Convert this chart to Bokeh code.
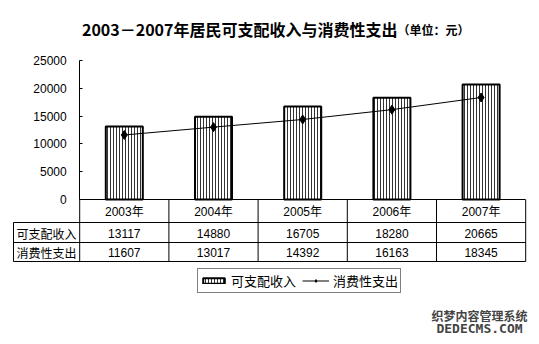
from bokeh.plotting import figure
from bokeh.models import Range1d, LinearAxis, FixedTicker, Legend, LegendItem
from bokeh.core.properties import value
from bokeh.embed import file_html
from bokeh.resources import INLINE

# ---- data ----
years = ["2003年", "2004年", "2005年", "2006年", "2007年"]
income = [13117, 14880, 16705, 18280, 20665]          # 可支配收入
consumption = [11607, 13017, 14392, 16163, 18345]     # 消费性支出
row_labels = ["可支配收入", "消费性支出"]
y_ticks = [0, 5000, 10000, 15000, 20000, 25000]
title_main = "2003－2007年居民可支配收入与消费性支出"
title_unit = "（单位：元）"
wm_cn = "织梦内容管理系统"
wm_en = "DEDECMS.COM"

# ---- layout constants (pixels) ----
W, H = 539, 344
AX = 79.2        # x of value axis
CW = 89.2        # category cell width
Y0 = 199         # pixel y of value 0
YTOP = 60        # pixel y of top tick
YMAX = 25000
PPU = (Y0 - YTOP) / YMAX
LEFT = (13 - AX) / CW
ROWS = [199, 222, 242, 261]

CJK = value("Noto Sans CJK SC")
MIX = value("Liberation Sans, Noto Sans CJK SC")

p = figure(width=W, height=H,
           x_range=Range1d(-AX / CW, (W - AX) / CW),
           y_range=Range1d(-(H - Y0) / PPU, YMAX + YTOP / PPU),
           x_axis_type=None, y_axis_type=None,
           toolbar_location=None, output_backend="svg", min_border=0)
p.extra_x_ranges = {"px": Range1d(0, W)}
p.extra_y_ranges = {"py": Range1d(H, 0)}
p.outline_line_color = None
p.background_fill_color = "white"
p.border_fill_color = "white"

xs = [i + 0.5 for i in range(len(years))]

# bars
bars = p.vbar(x=xs, top=income, bottom=0, width=0.415,
              fill_color="white", line_color="black", line_width=2,
              hatch_pattern="vertical_line", hatch_color="#333333",
              hatch_scale=3, hatch_weight=1)
# line
ln = p.line(xs, consumption, line_color="black", line_width=1)
sc = p.scatter(xs, consumption, marker="diamond", size=9,
               fill_color="black", line_color="black")

# axes
ya = LinearAxis(fixed_location=0, bounds=(0, YMAX),
                ticker=FixedTicker(ticks=y_ticks),
                major_tick_in=3, major_tick_out=0,
                minor_tick_in=0, minor_tick_out=0,
                major_label_standoff=13,
                major_label_text_font="Liberation Sans",
                major_label_text_font_size="12px",
                major_label_text_color="black",
                axis_line_color="black", major_tick_line_color="black")
p.add_layout(ya, "left")
xa = LinearAxis(fixed_location=0, bounds=(0, len(years)),
                ticker=FixedTicker(ticks=[]),
                major_tick_in=0, major_tick_out=0,
                minor_tick_in=0, minor_tick_out=0,
                major_label_text_font_size="0px",
                axis_line_color="black")
p.add_layout(xa, "below")

# data table
n = len(years)
p.segment(x0=[LEFT] * 3, y0=ROWS[1:], x1=[n] * 3, y1=ROWS[1:],
          y_range_name="py", line_color="black", line_width=1)
p.segment(x0=list(range(n + 1)), y0=[ROWS[0]] * (n + 1),
          x1=list(range(n + 1)), y1=[ROWS[3]] * (n + 1),
          y_range_name="py", line_color="black", line_width=1)
p.segment(x0=[LEFT], y0=[ROWS[1]], x1=[LEFT], y1=[ROWS[3]],
          y_range_name="py", line_color="black", line_width=1)

def row_c(i):
    return (ROWS[i] + ROWS[i + 1]) / 2 + 0.5

p.text(x=xs, y=[row_c(0)] * n, text=years, y_range_name="py",
       text_align="center", text_baseline="middle",
       text_font=MIX, text_font_size="12px", text_color="black")
p.text(x=xs, y=[row_c(1)] * n, text=[str(v) for v in income], y_range_name="py",
       text_align="center", text_baseline="middle",
       text_font=value("Liberation Sans"), text_font_size="12px", text_color="black")
p.text(x=xs, y=[row_c(2)] * n, text=[str(v) for v in consumption], y_range_name="py",
       text_align="center", text_baseline="middle",
       text_font=value("Liberation Sans"), text_font_size="12px", text_color="black")
p.text(x=[LEFT / 2] * 2, y=[row_c(1), row_c(2)], text=row_labels, y_range_name="py",
       text_align="center", text_baseline="middle",
       text_font=CJK, text_font_size="12px", text_color="black")

# title
p.text(x=[397], y=[28], text=[title_main], x_range_name="px", y_range_name="py",
       text_align="right", text_baseline="middle",
       text_font=CJK, text_font_style="bold", text_font_size="16px", text_color="black")
p.text(x=[397], y=[29], text=[title_unit], x_range_name="px", y_range_name="py",
       text_align="left", text_baseline="middle",
       text_font=CJK, text_font_style="bold", text_font_size="12px", text_color="black")

# watermark
p.text(x=[479], y=[315], text=[wm_cn], x_range_name="px", y_range_name="py",
       text_align="center", text_baseline="middle",
       text_font=CJK, text_font_style="bold", text_font_size="12px", text_color="#444444")
p.text(x=[479], y=[328], text=[wm_en], x_range_name="px", y_range_name="py",
       text_align="center", text_baseline="middle",
       text_font=value("DejaVu Sans Mono"), text_font_style="bold",
       text_font_size="13px", text_color="#444444")

# legend
legend = Legend(items=[LegendItem(label=row_labels[0], renderers=[bars]),
                       LegendItem(label=row_labels[1], renderers=[ln, sc])],
                orientation="horizontal", location=(197, H - 293),
                border_line_color="black", border_line_width=1,
                background_fill_color="white", background_fill_alpha=1,
                label_text_font="Noto Sans CJK SC", label_text_font_size="13px",
                label_text_color="black",
                glyph_width=27, glyph_height=7, label_height=13,
                label_standoff=4, spacing=6, padding=2, margin=0)
p.add_layout(legend)

open("out.html", "w").write(file_html(p, INLINE))
